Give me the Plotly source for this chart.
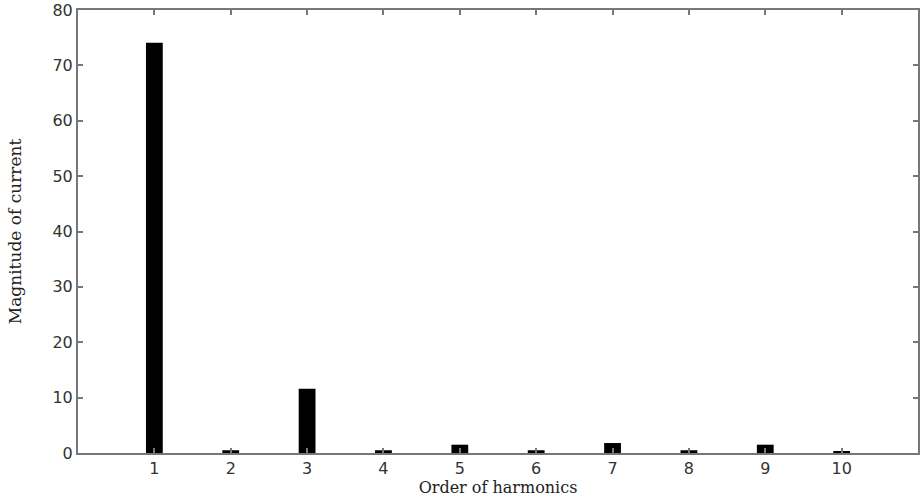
import plotly.graph_objects as go

# Harmonic order and magnitude
harmonics = [1, 2, 3, 4, 5, 6, 7, 8, 9, 10]
magnitude = [74.1, 0.5, 11.6, 0.5, 1.5, 0.5, 1.8, 0.5, 1.5, 0.3]
y_ticks = [0, 10, 20, 30, 40, 50, 60, 70, 80]

fig = go.Figure()
fig.add_trace(go.Bar(
    x=harmonics,
    y=magnitude,
    width=0.22,
    marker=dict(color="black", line=dict(width=0)),
))

axis_common = dict(
    showline=True,
    linecolor="#777777",
    linewidth=2,
    mirror="ticks",
    ticks="inside",
    ticklen=5,
    tickcolor="#777777",
    tickwidth=1.5,
    showgrid=False,
    zeroline=False,
    automargin=False,
    ticklabeloverflow="allow",
    tickfont=dict(family="DejaVu Sans", size=16, color="#333333"),
)

fig.update_xaxes(
    range=[0, 11],
    tickvals=harmonics,
    title=dict(text="Order of harmonics", standoff=2,
               font=dict(family="DejaVu Serif", size=16, color="#222222")),
    **axis_common,
)
fig.update_yaxes(
    range=[0, 80],
    tickvals=y_ticks,
    title=dict(text="Magnitude of current", standoff=26,
               font=dict(family="DejaVu Serif", size=17, color="#222222")),
    **axis_common,
)

fig.update_layout(
    width=920,
    height=499,
    margin=dict(l=78, r=2, t=10, b=46),
    plot_bgcolor="white",
    paper_bgcolor="white",
    showlegend=False,
)

# drop the page's default body margin so the figure sits flush with the window
fig.write_html(
    "out.html",
    config={"displayModeBar": False},
    post_script="document.body.style.margin='0';",
)
